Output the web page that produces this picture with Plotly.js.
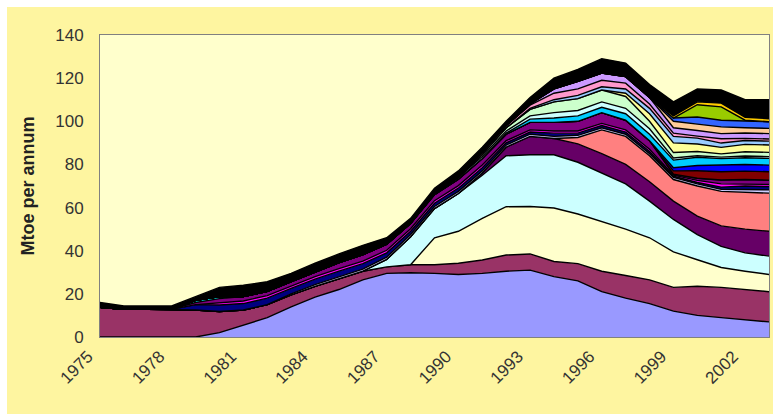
<!DOCTYPE html>
<html>
<head>
<meta charset="utf-8">
<script src="https://cdn.plot.ly/plotly-3.0.1.min.js"></script>
<style>
  html, body { margin: 0; padding: 0; background: #ffffff; }
  #chart { position: absolute; left: 7px; top: 7px; width: 766px; height: 407px; }
</style>
</head>
<body>
<div id="chart"></div>
<script>
// Years 1975..2003
const years = [1975,1976,1977,1978,1979,1980,1981,1982,1983,1984,1985,1986,1987,1988,1989,1990,1991,1992,1993,1994,1995,1996,1997,1998,1999,2000,2001,2002,2003];
const tickYears = [1975,1978,1981,1984,1987,1990,1993,1996,1999,2002];
const tickLabels = ["1975","1978","1981","1984","1987","1990","1993","1996","1999","2002"];

// Layer values, Mtoe per annum (stacked bottom -> top)
const fieldA = [0,0,0,0,0,2,5.5,9,14,18.5,22,26.5,29.5,29.8,29.5,29,29.5,30.5,31,28,26,21,18,15.5,12,10,9,8,7];
const fieldB = [13.8,12.8,12.8,12.8,12.5,9.8,7,6,5.5,5,5,4,3,3.7,4,5.2,6.2,7.5,7.5,7,8,9.5,10.5,11,11,13.5,14,14,14];
const fieldC = [0,0,0,0,0,0,0,0,0,0,0,0,0,0,12.5,14.8,19.3,22.4,22,24.8,23,23,21.5,19.5,16.5,12.3,9.2,8.5,8];
const fieldD = [0,0,0,0,0,0,0,0,0,0,0,0,3.5,13,13.5,17.5,20,23.6,24,24.7,24,22.5,21,17,15,11.7,9.8,8.5,8.5];
const fieldE = [0,0,0,0,0,0,0,0,0,0,0,0,0,0,0,0,1,4,8.5,7.5,8.5,9,9,9,8.5,8.5,9.5,11,11.5];
const fieldF = [0,0,0,0,0,0,0,0,0,0,0,0,0,0,0,0,0,0,0,0,3,11,13,12,10,14,16,17,17.7];
const fieldG = [0,0,0,0,0,0,0,0,0.5,0.8,1,1,1,1,1,1,1,1,1,1,1,1,1,1,1,1,1,1.5,1.5];
const fieldH = [0,0,0,0,2.5,3,3,3,2.5,2.5,2.5,2.5,2,1.5,1.5,1.5,1.5,1,1,1.5,1,1,1,1,0.5,0.6,1,1.5,1.5];
const fieldI = [0,0,0,0,0,1,1.2,1.2,1.2,1.2,1.2,1.2,1.2,1.2,1.2,1.2,1.2,1,1,1,1,1,1,1,0.5,1,1.5,1,1];
const fieldJ = [0,0,0,0,1,2,2,2,2,2.2,2.8,3,2.8,2.5,2.8,3,3,3,3.5,4,4.5,5,4.5,4,0.5,1,1.8,2,2];
const fieldK = [0,0,0,0,1,1,0,0,0,0,0,0,0,0,0,0,0,0,0,0,0,0,0,0,0,0,0,0,0];
const fieldL = [0,0,0,0,0,0,0,0,0,0,0,0,0,0,0,0,0,0,0,0,0,0,0,0,1.5,3.5,3.8,3.9,3.9];
const fieldM = [0,0,0,0,0,0,0,0,0,0,0,0,0,0,0,0,0,0,0,0,0,0,0,0,1.5,2.4,3.1,3.1,3.1];
const fieldN = [0,0,0,0,0,0,0,0,0,0,0,0,0,0,0,0,0,0.5,1.5,2,2.5,2.5,3,3,3.5,3.8,3,3.1,3.1];
const fieldO = [0,0,0,0,0,0,0,0,0,0,0,0,0,0,0.5,0.8,1,1,1.5,2.5,2.5,2.5,2.5,2.5,1,0.7,0.7,0.8,0.8];
const fieldP = [0,0,0,0,0,0,0,0,0,0,0,0,0,0,0,0,1,1.5,3,5,5.5,5.5,5.5,3.5,2.5,2,1.5,2,2];
const fieldQ = [0,0,0,0,0,0,0,0,0,0,0,0,0,0,0,0,0,0,0,0,0,0,1.5,3.5,4.5,3.5,3,3.4,3.4];
const fieldR = [0,0,0,0,0,0,0,0,0,0,0,0,0,0,0,0,0,0,0.5,1,1.5,1.5,2,2.5,3,2.7,2,1.8,1.8];
const fieldS = [0,0,0,0,0,0,0,0,0,0,0,0,0,0,0,0.5,1,1,1.5,3,3,3,2.7,2,1.5,0.9,2,1,1];
const fieldT = [0,0,0,0,0,0,0,0,0,0,0,0,0,0,0,0,0,0,0.5,2,3.5,3.4,3,3,2.5,2.6,2.4,2.5,2.5];
const fieldU = [0,0,0,0,0,0,0,0,0,0,0,0,0,0,0,0,0,0,0,0,0,0,0,0,3,3,3.1,2.4,2.4];
const fieldV = [0,0,0,0,0,0,0,0,0,0,0,0,0,0,0,0,0,0,0,0,0,0,0,0,1.5,3.3,3.1,3.1,3.1];
const fieldW = [0,0,0,0,0,0,0,0,0,0,0,0,0,0,0,0,0,0,0,0,0,0,0,0,0,5.7,6.2,0.4,0];
const fieldX = [0,0,0,0,0,0,0,0,0,0,0,0,0,0,0,0,0,0,0,0,0,0,0,0,1,1.3,1.7,1.4,1.4];
const fieldY = [2.2,1.6,1.6,1.6,1.7,4.2,5.3,4.4,3.8,4.0,4.0,4.3,3.0,2.3,2.5,2.5,2.3,2.0,3.0,5.0,5.5,6.6,6.3,6.0,6.5,6.0,6.1,8.1,8.8];

const layers = [
  [fieldA, '#9999FF'], [fieldB, '#993366'], [fieldC, '#FFFFCC'], [fieldD, '#CCFFFF'],
  [fieldE, '#660066'], [fieldF, '#FF8080'], [fieldG, '#CCCCFF'], [fieldH, '#000080'],
  [fieldI, '#FF00FF'], [fieldJ, '#800080'], [fieldK, '#00FFFF'], [fieldL, '#800000'],
  [fieldM, '#0000FF'], [fieldN, '#00CCFF'], [fieldO, '#CCFFFF'], [fieldP, '#CCFFCC'],
  [fieldQ, '#FFFF99'], [fieldR, '#99CCFF'], [fieldS, '#FF99CC'], [fieldT, '#CC99FF'],
  [fieldU, '#FFCC99'], [fieldV, '#3366FF'], [fieldW, '#99CC00'], [fieldX, '#FFCC00'],
  [fieldY, '#000000']
];

const traces = layers.map(([vals, col]) => ({
  x: years, y: vals, type: 'scatter', mode: 'lines',
  stackgroup: 'one', fillcolor: col,
  line: { color: '#000000', width: 1.4 },
  hoverinfo: 'skip'
}));

const fontFam = 'Liberation Sans, Arial, sans-serif';
const layout = {
  width: 766, height: 407,
  margin: { l: 93, r: 4, t: 28, b: 77 },
  paper_bgcolor: '#FEF5A0',
  plot_bgcolor: '#FFFFCC',
  showlegend: false,
  xaxis: {
    range: [1975, 2003], tickvals: tickYears, ticktext: tickLabels,
    tickangle: -45, showgrid: false, zeroline: false,
    showline: true, linecolor: '#808080', linewidth: 1, mirror: true,
    ticks: 'outside', ticklen: 2, tickcolor: 'rgba(0,0,0,0)',
    ticklabelshift: -12,
    tickfont: { family: fontFam, size: 17, color: '#333333' }
  },
  yaxis: {
    range: [0, 140], dtick: 20, tick0: 0, showgrid: false, zeroline: false,
    showline: true, linecolor: '#808080', linewidth: 1, mirror: true,
    ticks: 'outside', ticklen: 12, tickcolor: 'rgba(0,0,0,0)',
    tickfont: { family: fontFam, size: 17, color: '#333333' },
    title: { text: 'Mtoe per annum', standoff: 15,
             font: { family: fontFam, size: 18, color: '#222222', weight: 'bold' } }
  }
};

Plotly.newPlot('chart', traces, layout, { staticPlot: true, displayModeBar: false });
</script>
</body>
</html>
